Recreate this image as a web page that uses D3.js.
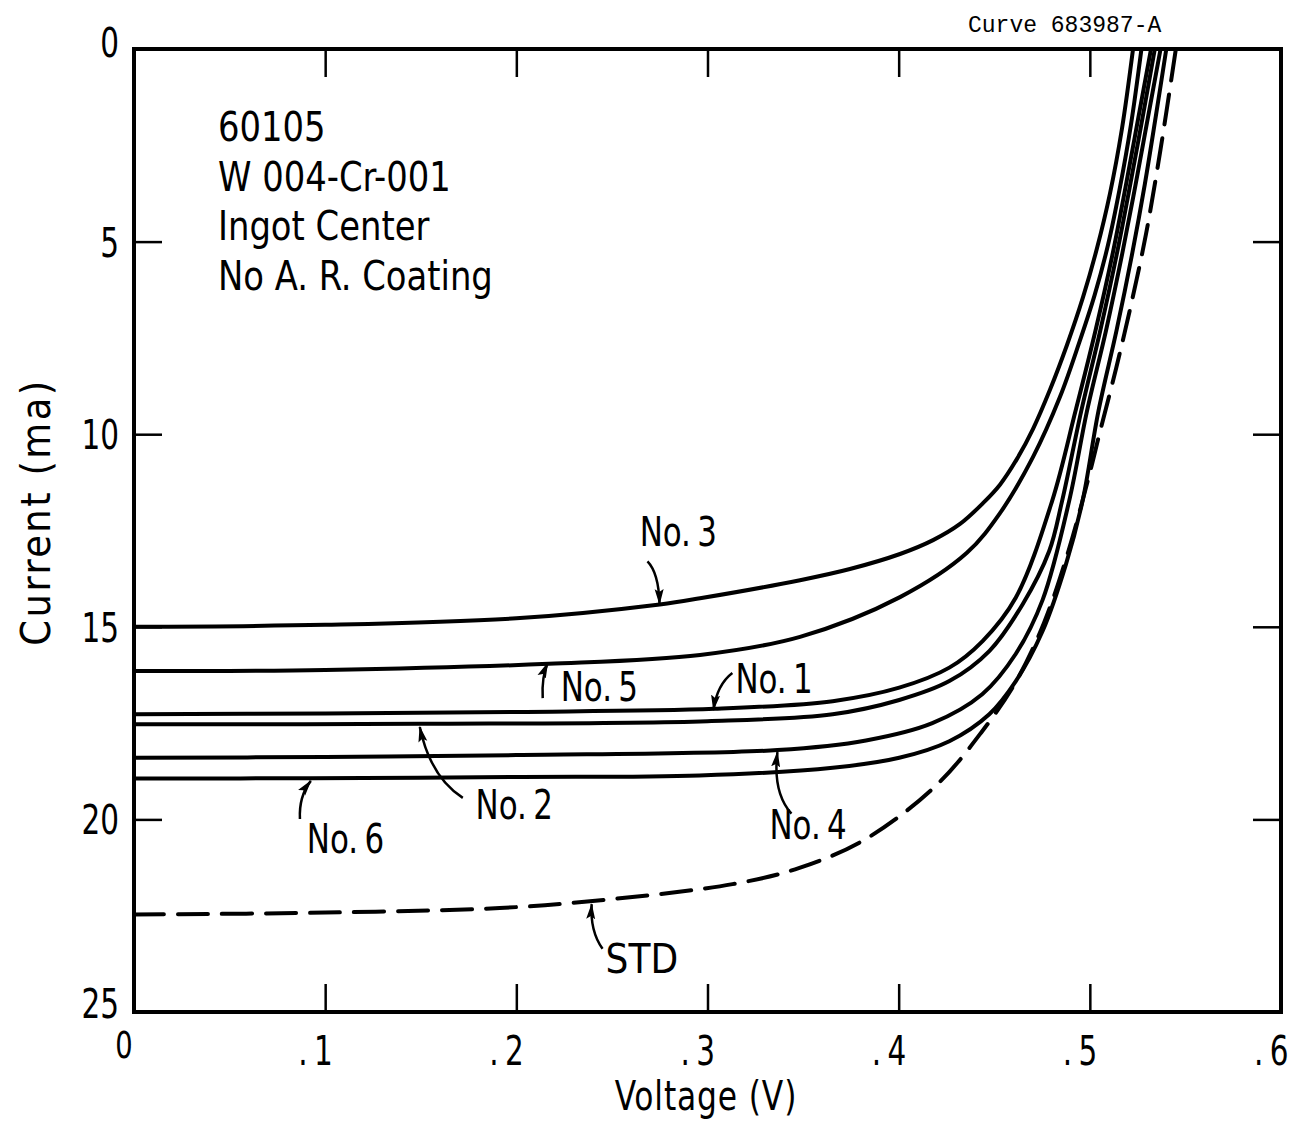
<!DOCTYPE html>
<html>
<head>
<meta charset="utf-8">
<script src="https://cdn.jsdelivr.net/npm/d3@7"></script>
<style>
  body { margin: 0; background: #fff; }
  svg text { font-family: 'Liberation Sans Narrow', 'DejaVu Sans Condensed', sans-serif; fill: #000; }
  .mono { font-family: 'Liberation Mono', 'DejaVu Sans Mono', monospace; }
</style>
</head>
<body>
<div id="chart-area"></div>
<script>
// Axis ticks
const voltageTicks = [0.1, 0.2, 0.3, 0.4, 0.5];
const voltageLabels = [".1", ".2", ".3", ".4", ".5", ".6"];
const currentTicks = [0, 5, 10, 15, 20, 25];

// I-V curves, [voltage (V), current (ma)]
const no3 = [[0, 15.0], [0.1, 14.95], [0.2, 14.78], [0.275, 14.42], [0.2961, 14.26], [0.3484, 13.79], [0.3745, 13.5],
  [0.4007, 13.11], [0.418, 12.75], [0.4321, 12.33], [0.4441, 11.79], [0.453, 11.31], [0.4619, 10.64], [0.4703, 9.86],
  [0.4792, 8.84], [0.488, 7.69], [0.4964, 6.45], [0.5037, 5.18], [0.5105, 3.76], [0.5168, 2.07], [0.5226, 0]];
const no5 = [[0, 16.15], [0.1, 16.12], [0.217, 15.96], [0.2961, 15.73], [0.3484, 15.26], [0.4007, 14.23], [0.4357, 13.08],
  [0.453, 12.05], [0.4703, 10.59], [0.4844, 9.03], [0.4944, 7.63], [0.5025, 6.39], [0.5095, 5.09], [0.5155, 3.66],
  [0.5215, 1.97], [0.527, 0]];
const no1 = [[0, 17.27], [0.1, 17.25], [0.2, 17.21], [0.3037, 17.13], [0.3655, 16.93], [0.4003, 16.58], [0.4265, 16.06],
  [0.4439, 15.37], [0.4613, 14.24], [0.4803, 11.73], [0.4925, 9.4], [0.503, 7.3], [0.512, 5.3], [0.519, 3.5],
  [0.5255, 1.75], [0.532, 0]];
const no2 = [[0, 17.53], [0.15, 17.52], [0.3, 17.45], [0.3655, 17.27], [0.4003, 16.9], [0.4265, 16.41], [0.4474, 15.63],
  [0.4648, 14.42], [0.4787, 13.04], [0.4855, 11.73], [0.4955, 9.4], [0.5055, 7.3], [0.5142, 5.3], [0.5212, 3.5],
  [0.5277, 1.75], [0.534, 0]];
const no4 = [[0, 18.4], [0.1, 18.38], [0.2, 18.33], [0.3366, 18.2], [0.3829, 17.95], [0.4176, 17.5], [0.4437, 16.75],
  [0.4613, 15.7], [0.4753, 14.3], [0.4892, 11.73], [0.4985, 9.4], [0.5085, 7.3], [0.517, 5.3], [0.524, 3.5],
  [0.5305, 1.75], [0.537, 0]];
const no6 = [[0, 18.94], [0.092, 18.93], [0.2, 18.9], [0.2958, 18.86], [0.3655, 18.66], [0.4003, 18.4], [0.4265, 17.97],
  [0.4474, 17.27], [0.4613, 16.41], [0.4753, 15.11], [0.4875, 13.38], [0.4962, 11.73], [0.5045, 9.4], [0.514, 7.3],
  [0.5222, 5.3], [0.5288, 3.5], [0.5345, 1.75], [0.54, 0]];
const std = [[0, 22.47], [0.1, 22.42], [0.1913, 22.3], [0.2399, 22.12], [0.3131, 21.68], [0.3481, 21.26], [0.3831, 20.5],
  [0.42, 19.1], [0.4437, 17.71], [0.4615, 16.41], [0.476, 14.9], [0.489, 13.0], [0.5, 11.0], [0.505, 10.0],
  [0.5138, 8.28], [0.522, 6.54], [0.5294, 4.8], [0.537, 2.6], [0.545, 0]];

const seriesNames = ["No. 1", "No. 2", "No. 3", "No. 4", "No. 5", "No. 6", "STD"];
const seriesData = [no1, no2, no3, no4, no5, no6, std];

const infoLines = ["60105", "W 004-Cr-001", "Ingot Center", "No A. R. Coating"];

// Callout label layout (data units): text start, arrow tail, bend, tip
const callouts = [
  { name: "No. 3", text: [0.2645, 12.9],  tail: [0.2686, 13.3],  ctrl: [0.2745, 13.6],  tip: [0.2749, 14.41] },
  { name: "No. 5", text: [0.2232, 16.93], tail: [0.2138, 16.85], ctrl: [0.2132, 16.3],  tip: [0.2164, 15.94] },
  { name: "No. 1", text: [0.3146, 16.72], tail: [0.313, 16.2],   ctrl: [0.305, 16.5],   tip: [0.3031, 17.16] },
  { name: "No. 2", text: [0.1787, 19.99], tail: [0.172, 19.44],  ctrl: [0.155, 18.9],   tip: [0.1495, 17.6] },
  { name: "No. 6", text: [0.0904, 20.87], tail: [0.0868, 19.99], ctrl: [0.0862, 19.4],  tip: [0.0925, 19.0] },
  { name: "No. 4", text: [0.3324, 20.51], tail: [0.3439, 19.85], ctrl: [0.334, 19.3],   tip: [0.3366, 18.25] },
  { name: "STD",   text: [0.2467, 23.99], tail: [0.2451, 23.36], ctrl: [0.2385, 22.9],  tip: [0.2394, 22.2] }
];

const W = 1308, H = 1122;
const plot = { left: 134, right: 1281, top: 49, bottom: 1012 };

const svg = d3.select("#chart-area")
  .append("svg")
  .attr("width", W)
  .attr("height", H);

const x = d3.scaleLinear().domain([0, 0.6]).range([plot.left, plot.right]);
const y = d3.scaleLinear().domain([0, 25]).range([plot.top, plot.bottom]);

// place text with a horizontal squeeze (the original face is condensed)
function squeeze(sel, px, py, s) {
  sel.attr("x", 0).attr("y", 0)
    .attr("transform", (d, i) => `translate(${typeof px === "function" ? px(d, i) : px},${typeof py === "function" ? py(d, i) : py}) scale(${typeof s === "function" ? s(d, i) : s},1)`);
}

// arrowhead
svg.append("defs").append("marker")
  .attr("id", "arrow")
  .attr("markerUnits", "userSpaceOnUse")
  .attr("viewBox", "0 -5 16 10")
  .attr("refX", 15)
  .attr("refY", 0)
  .attr("markerWidth", 16)
  .attr("markerHeight", 10)
  .attr("orient", "auto")
  .append("path")
  .attr("d", "M0,-4.5L16,0L0,4.5L3,0Z")
  .attr("fill", "#000");

// Left axis (ticks inward), labels drawn separately
const yAxis = svg.append("g")
  .attr("transform", `translate(${plot.left},0)`)
  .call(d3.axisLeft(y).tickValues(currentTicks.slice(1, -1)).tickSizeInner(-28).tickSizeOuter(0).tickFormat(""));
yAxis.select(".domain").remove();
yAxis.selectAll("line").attr("stroke-width", 2.5);

svg.append("g").selectAll("text")
  .data(currentTicks)
  .enter().append("text")
  .attr("font-size", 41)
  .attr("text-anchor", "end")
  .text(d => d)
  .call(squeeze, 119, d => y(d) + (d === 0 ? 8 : d === 25 ? 6 : 15), 0.8);

// Right axis ticks
const yRight = svg.append("g")
  .attr("transform", `translate(${plot.right},0)`)
  .call(d3.axisRight(y).tickValues(currentTicks.slice(1, -1)).tickSizeInner(-28).tickSizeOuter(0).tickFormat(""));
yRight.select(".domain").remove();
yRight.selectAll("line").attr("stroke-width", 2.5);

// Bottom axis
const xAxis = svg.append("g")
  .attr("transform", `translate(0,${plot.bottom})`)
  .call(d3.axisBottom(x).tickValues(voltageTicks).tickSizeInner(-28).tickSizeOuter(0).tickFormat(""));
xAxis.select(".domain").remove();
xAxis.selectAll("line").attr("stroke-width", 2.5);

// Top axis
const xTop = svg.append("g")
  .attr("transform", `translate(0,${plot.top})`)
  .call(d3.axisTop(x).tickValues(voltageTicks).tickSizeInner(-28).tickSizeOuter(0).tickFormat(""));
xTop.select(".domain").remove();
xTop.selectAll("line").attr("stroke-width", 2.5);

// x tick labels
const xLabelVals = voltageTicks.concat([0.6]);
svg.append("g").selectAll("text")
  .data(xLabelVals)
  .enter().append("text")
  .attr("font-size", 41)
  .attr("letter-spacing", 8)
  .text((d, i) => voltageLabels[i])
  .call(squeeze, d => x(d) - 27, plot.bottom + 53, 0.8);

svg.append("text")
  .attr("font-size", 38)
  .attr("text-anchor", "middle")
  .text("0")
  .call(squeeze, x(0) - 10, plot.bottom + 46, 0.8);

// Frame
svg.append("rect")
  .attr("x", plot.left)
  .attr("y", plot.top)
  .attr("width", plot.right - plot.left)
  .attr("height", plot.bottom - plot.top)
  .attr("fill", "none")
  .attr("stroke", "#000")
  .attr("stroke-width", 4);

// Axis titles
svg.append("text")
  .attr("transform", `translate(50,512) rotate(-90)`)
  .attr("text-anchor", "middle")
  .attr("font-size", 41)
  .attr("letter-spacing", 2.5)
  .text("Current (ma)");

svg.append("text")
  .attr("font-size", 41)
  .attr("text-anchor", "middle")
  .attr("letter-spacing", 1)
  .text("Voltage (V)")
  .call(squeeze, 706, plot.bottom + 98, 0.85);

// Curve id
svg.append("text")
  .attr("class", "mono")
  .attr("x", 968)
  .attr("y", 32)
  .attr("font-size", 23)
  .text("Curve 683987-A");

// Info block
svg.append("g").selectAll("text")
  .data(infoLines)
  .enter().append("text")
  .attr("font-size", 40)
  .text(d => d)
  .call(squeeze, 218, (d, i) => 141 + i * 49.5, 0.94);

// Curves
const line = d3.line()
  .x(d => x(d[0]))
  .y(d => y(d[1]))
  .curve(d3.curveCatmullRom.alpha(0.5));

svg.append("g").selectAll("path")
  .data(seriesData)
  .enter().append("path")
  .attr("d", line)
  .attr("fill", "none")
  .attr("stroke", "#000")
  .attr("stroke-width", 4)
  .attr("stroke-linecap", "round")
  .attr("stroke-dasharray", (d, i) => seriesNames[i] === "STD" ? "30,14" : null);

// Callouts
const callout = svg.append("g").selectAll("g")
  .data(callouts)
  .enter().append("g");

callout.append("path")
  .attr("d", d => {
    const p = d3.path();
    p.moveTo(x(d.tail[0]), y(d.tail[1]));
    p.quadraticCurveTo(x(d.ctrl[0]), y(d.ctrl[1]), x(d.tip[0]), y(d.tip[1]));
    return p.toString();
  })
  .attr("fill", "none")
  .attr("stroke", "#000")
  .attr("stroke-width", 2.5)
  .attr("marker-end", "url(#arrow)");

callout.append("text")
  .attr("font-size", 40)
  .attr("word-spacing", -4)
  .text(d => d.name)
  .call(squeeze, d => x(d.text[0]), d => y(d.text[1]), d => d.name === "STD" ? 1 : 0.86);
</script>
</body>
</html>
